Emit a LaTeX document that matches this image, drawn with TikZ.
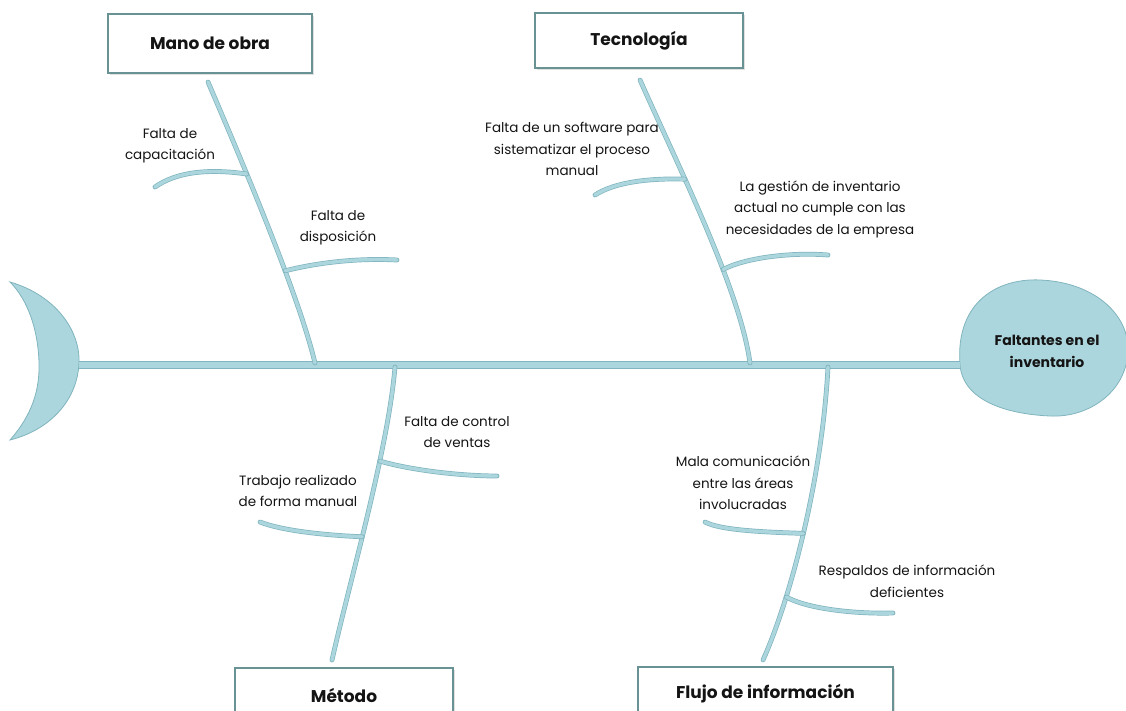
\documentclass[tikz,border=0pt]{standalone}
\usepackage{fontspec}
\setmainfont{Poppins}
\definecolor{bonefill}{RGB}{172,214,221}
\definecolor{boneedge}{RGB}{128,180,190}
\definecolor{boxedge}{RGB}{104,146,148}
\definecolor{txt}{RGB}{20,20,20}
\begin{document}
\begin{tikzpicture}[x=1pt,y=-1pt,
  bone/.style={draw=bonefill,line width=3.4pt,line cap=round,
    preaction={draw=boneedge,line width=4.8pt,line cap=round}},
  spinestyle/.style={draw=bonefill,line width=6.5pt,
    preaction={draw=boneedge,line width=8pt}},
  catbox/.style={draw=boxedge,line width=2pt,fill=white,inner sep=0pt,
    preaction={fill=black!12,transform canvas={xshift=1.5pt,yshift=-2pt}},
    font=\fontsize{17}{20}\selectfont\bfseries,text=txt},
  cause/.style={align=center,font=\fontsize{13.5}{21.5}\selectfont,text=txt,inner sep=0pt},
  headtext/.style={align=center,font=\fontsize{14}{22}\selectfont\bfseries,text=txt,inner sep=0pt}]
\useasboundingbox (0,0) rectangle (1126,711);

% category boxes
\node[catbox,minimum width=204pt,minimum height=59pt] (mano) at (210,43.5) {Mano de obra};
\node[catbox,minimum width=208pt,minimum height=55pt] (tecn) at (639,40.5) {Tecnología};
\node[catbox,minimum width=218pt,minimum height=54pt] (meto) at (344,695) {Método};
\node[catbox,minimum width=255pt,minimum height=54pt] (fluj) at (765.5,694) {Flujo de información};

% tail (crescent)
\path[fill=bonefill,draw=boneedge,line width=0.8pt]
  (10,282) .. controls (55,295) and (80,330) .. (79,362)
  .. controls (78,400) and (50,430) .. (10,440)
  .. controls (32,415) and (40,390) .. (39,362)
  .. controls (38,330) and (28,300) .. (10,282) -- cycle;
\coordinate (tail) at (79,365);

% head
\path[fill=bonefill,draw=boneedge,line width=0.8pt]
  (960,365) .. controls (955,300) and (1000,278) .. (1040,280)
  .. controls (1090,282) and (1125,310) .. (1128,345)
  .. controls (1130,390) and (1090,418) .. (1050,416)
  .. controls (1005,414) and (963,400) .. (960,365) -- cycle;
\coordinate (headw) at (960,365);
\node[headtext] (head) at (1047,351) {Faltantes en el\\inventario};

% spine
\draw[spinestyle] (tail) -- (headw);

% main bones
\coordinate (m0) at (208,82);
\coordinate (m1) at (315,363);
\draw[bone] (m0) .. controls (250,180) and (300,300) .. (m1)
  coordinate[pos=0.3] (ma) coordinate[pos=0.62] (mb);

\coordinate (t0) at (640,80);
\coordinate (t1) at (750,363);
\draw[bone] (t0) .. controls (680,170) and (740,290) .. (t1)
  coordinate[pos=0.34] (ta) coordinate[pos=0.64] (tb);

\coordinate (d0) at (395,367);
\coordinate (d1) at (332,660);
\draw[bone] (d0) .. controls (388,450) and (350,580) .. (d1)
  coordinate[pos=0.33] (mc) coordinate[pos=0.57] (md);

\coordinate (f0) at (828,367);
\coordinate (f1) at (763,660);
\draw[bone] (f0) .. controls (822,480) and (790,600) .. (f1)
  coordinate[pos=0.5] (fa) coordinate[pos=0.72] (fb);

% sub-bones
\coordinate (mae) at (155,187);
\coordinate (mbe) at (397,260);
\coordinate (tae) at (595,195);
\coordinate (tbe) at (828,255);
\coordinate (mce) at (497,476);
\coordinate (mde) at (260,522);
\coordinate (fae) at (705,522);
\coordinate (fbe) at (893,613);
\draw[bone] (ma) .. controls (205,168) and (175,173) .. (mae);
\draw[bone] (mb) .. controls (320,262) and (360,258) .. (mbe);
\draw[bone] (ta) .. controls (650,178) and (615,182) .. (tae);
\draw[bone] (tb) .. controls (745,258) and (790,252) .. (tbe);
\draw[bone] (mc) .. controls (410,470) and (460,476) .. (mce);
\draw[bone] (md) .. controls (320,535) and (280,530) .. (mde);
\draw[bone] (fa) .. controls (760,532) and (720,530) .. (fae);
\draw[bone] (fb) .. controls (810,610) and (860,614) .. (fbe);

% cause labels
\node[cause] (c1) at (170,146) {Falta de\\capacitación};
\node[cause] (c2) at (338,228) {Falta de\\disposición};
\node[cause] (c3) at (572,149) {Falta de un software para\\sistematizar el proceso\\manual};
\node[cause] (c4) at (820,209) {La gestión de inventario\\actual no cumple con las\\necesidades de la empresa};
\node[cause] (c5) at (457,432) {Falta de control\\de ventas};
\node[cause] (c6) at (298,491) {Trabajo realizado\\de forma manual};
\node[cause] (c7) at (743,483) {Mala comunicación\\entre las áreas\\involucradas};
\node[cause] (c8) at (907,581) {Respaldos de información\\deficientes};
\end{tikzpicture}
\end{document}
